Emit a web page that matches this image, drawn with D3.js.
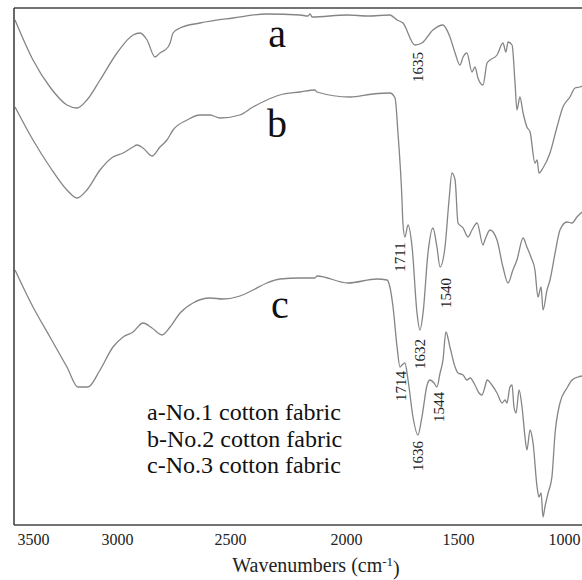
<!DOCTYPE html>
<html>
<head>
<meta charset="utf-8">
<script src="https://cdn.jsdelivr.net/npm/d3@7"></script>
<style>
	body { margin: 0; background: #fff; }
	svg { display: block; }
</style>
</head>
<body>
<div id="chart"></div>
<script>
// tick labels of the wavenumber axis (the axis is not evenly spaced in the figure)
const tickValues = [3500, 3000, 2500, 2000, 1500, 1000]

const seriesKeys = ["a", "b", "c"]
const legendLines = ["a-No.1 cotton fabric", "b-No.2 cotton fabric", "c-No.3 cotton fabric"]

// [wavenumber, transmittance (a.u.)]
const traceA = [
	[3607, 505], [3500, 465], [3399, 438], [3298, 420], [3238, 417], [3179, 425], [3101, 445],
	[3000, 472], [2929, 490], [2898, 492], [2867, 485], [2832, 468], [2810, 472], [2774, 478],
	[2765, 482], [2752, 492], [2721, 497], [2633, 502], [2487, 507], [2341, 511], [2198, 510],
	[2164, 509], [2155, 511], [2146, 508], [1996, 510], [1900, 509], [1804, 510], [1772, 505],
	[1746, 502], [1692, 480], [1661, 482], [1612, 495], [1567, 500], [1536, 488], [1513, 472],
	[1491, 460], [1476, 468], [1458, 472], [1434, 453], [1420, 458], [1406, 447], [1382, 440],
	[1363, 462], [1349, 465], [1316, 470], [1288, 482], [1274, 473], [1264, 483], [1245, 480],
	[1231, 442], [1222, 415], [1208, 428], [1193, 412], [1175, 398], [1160, 393], [1137, 362],
	[1127, 365], [1118, 352], [1099, 357], [1066, 372], [1033, 398], [1005, 418], [972, 428],
	[948, 437], [925, 438], [911, 439]
]

const traceB = [
	[3607, 418], [3500, 385], [3399, 358], [3298, 335], [3238, 327], [3179, 335], [3101, 355],
	[3024, 368], [2973, 372], [2929, 378], [2912, 380], [2885, 377], [2845, 369], [2810, 378],
	[2779, 385], [2752, 395], [2690, 405], [2633, 410], [2588, 410], [2544, 407], [2457, 410],
	[2401, 418], [2341, 425], [2285, 430], [2198, 433], [2134, 435], [2125, 433], [1982, 428],
	[1879, 431], [1804, 432], [1781, 427], [1768, 392], [1750, 325], [1746, 302], [1737, 288],
	[1723, 300], [1705, 278], [1683, 212], [1670, 195], [1656, 212], [1634, 272], [1612, 297],
	[1594, 278], [1580, 258], [1558, 278], [1540, 325], [1527, 352], [1513, 345], [1500, 302],
	[1476, 297], [1453, 288], [1434, 295], [1410, 302], [1382, 280], [1373, 285], [1349, 295],
	[1316, 285], [1288, 258], [1264, 242], [1241, 255], [1222, 265], [1193, 287], [1175, 278],
	[1156, 268], [1137, 255], [1123, 228], [1108, 238], [1099, 215], [1080, 235], [1066, 245],
	[1042, 272], [1019, 295], [986, 303], [962, 302], [939, 308], [915, 313]
]

const traceC = [
	[3607, 255], [3500, 218], [3399, 188], [3298, 158], [3232, 138], [3173, 138], [3101, 155],
	[3024, 178], [2973, 188], [2929, 193], [2885, 202], [2845, 197], [2801, 190], [2765, 198],
	[2721, 212], [2664, 222], [2588, 227], [2531, 226], [2457, 229], [2401, 235], [2341, 242],
	[2285, 246], [2198, 247], [2134, 247], [2125, 249], [1991, 242], [1862, 246], [1817, 245],
	[1804, 238], [1790, 218], [1772, 178], [1759, 158], [1750, 160], [1737, 162], [1723, 145],
	[1701, 108], [1679, 90], [1661, 108], [1638, 140], [1625, 145], [1607, 142], [1594, 138],
	[1580, 152], [1567, 165], [1554, 193], [1536, 178], [1513, 158], [1500, 152], [1476, 150],
	[1458, 145], [1443, 147], [1420, 140], [1401, 132], [1387, 130], [1373, 138], [1363, 145],
	[1340, 140], [1316, 132], [1292, 122], [1278, 125], [1269, 122], [1255, 138], [1245, 140],
	[1236, 118], [1226, 112], [1212, 135], [1198, 118], [1184, 88], [1175, 75], [1160, 95],
	[1146, 82], [1127, 38], [1118, 28], [1108, 32], [1099, 8], [1090, 18], [1075, 32],
	[1057, 48], [1042, 92], [1019, 122], [986, 137], [962, 145], [934, 148], [915, 149]
]

// curve letters: [key, wavenumber, transmittance]
const curveLetters = [["a", 2297, 478], ["b", 2297, 388], ["c", 2285, 207]]

// peak annotations: [text, wavenumber, transmittance]
const peakLabels = [
	["1635", 1679, 458], ["1711", 1759, 268], ["1540", 1554, 232], ["1632", 1670, 171],
	["1714", 1755, 139], ["1544", 1585, 118], ["1636", 1679, 69]
]

const width = 582
const height = 580
const frame = { left: 14, top: 8, right: 582, bottom: 525 }
const font = "'Liberation Serif', 'Times New Roman', serif"

const svg = d3.select("#chart")
	.append("svg")
	.attr("width", width)
	.attr("height", height)

svg.append("rect")
	.attr("width", width)
	.attr("height", height)
	.attr("fill", "#fff")

// piecewise scale through the printed tick labels
const x = d3.scaleLinear()
	.domain(tickValues)
	.range([33, 117, 230, 346, 458, 564])

const y = d3.scaleLinear()
	.domain([0, 517])
	.range([frame.bottom, frame.top])

const line = d3.line()
	.x(d => x(d[0]))
	.y(d => y(d[1]))
	.curve(d3.curveMonotoneX)

svg.selectAll(".trace")
	.data([traceA, traceB, traceC])
	.enter().append("path")
	.attr("class", "trace")
	.attr("d", line)
	.attr("fill", "none")
	.attr("stroke", "#858585")
	.attr("stroke-width", 1.3)
	.attr("stroke-linejoin", "round")

// frame: left, top and bottom only
const frameLines = [
	[frame.left, frame.top, frame.left, frame.bottom],
	[frame.left, frame.top, frame.right, frame.top],
	[frame.left, frame.bottom, frame.right, frame.bottom]
]
svg.selectAll(".frame")
	.data(frameLines)
	.enter().append("line")
	.attr("class", "frame")
	.attr("x1", d => d[0]).attr("y1", d => d[1])
	.attr("x2", d => d[2]).attr("y2", d => d[3])
	.attr("stroke", "#444")
	.attr("stroke-width", 1.6)

// x axis labels only
const axis = svg.append("g")
	.attr("transform", `translate(0,${frame.bottom})`)
	.attr("font-family", font)
	.call(d3.axisBottom(x).tickValues(tickValues).tickSize(0).tickPadding(9).tickFormat(d3.format("d")))
axis.attr("font-family", font)
axis.select(".domain").remove()
axis.selectAll("text")
	.style("font-family", font)
	.style("font-size", "16px")
	.attr("fill", "#222")

const title = svg.append("text")
	.attr("x", 316)
	.attr("y", 572)
	.attr("text-anchor", "middle")
	.style("font-family", font)
	.style("font-size", "20px")
	.attr("fill", "#222")
title.append("tspan").text("Wavenumbers (cm")
title.append("tspan").attr("dy", "-0.45em").style("font-size", "13px").text("-1")
title.append("tspan").attr("dy", "0.45em").text(")")

svg.selectAll(".letter")
	.data(curveLetters)
	.enter().append("text")
	.attr("class", "letter")
	.attr("x", d => x(d[1]))
	.attr("y", d => y(d[2]))
	.attr("text-anchor", "middle")
	.style("font-family", font)
	.style("font-size", "40px")
	.attr("fill", "#111")
	.text(d => d[0])

svg.selectAll(".peak")
	.data(peakLabels)
	.enter().append("text")
	.attr("class", "peak")
	.attr("transform", d => `translate(${x(d[1])},${y(d[2])}) rotate(-90)`)
	.attr("text-anchor", "middle")
	.attr("dominant-baseline", "central")
	.style("font-family", font)
	.style("font-size", "15px")
	.attr("fill", "#222")
	.text(d => d[0])

svg.selectAll(".legend")
	.data(legendLines)
	.enter().append("text")
	.attr("class", "legend")
	.attr("x", 147)
	.attr("y", (d, i) => 420 + i * 26.5)
	.style("font-family", font)
	.style("font-size", "24px")
	.attr("fill", "#111")
	.text(d => d)
</script>
</body>
</html>
